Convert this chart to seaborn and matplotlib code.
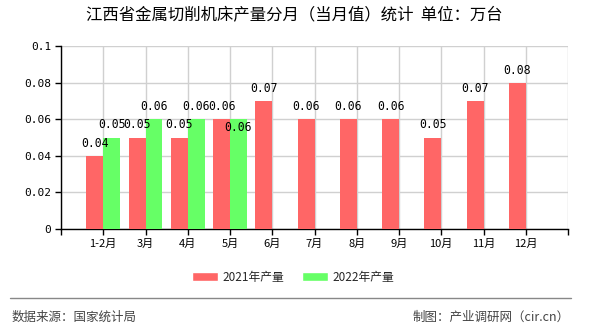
import matplotlib
matplotlib.use("Agg")
import matplotlib.pyplot as plt
import seaborn as sns
import pandas as pd
from matplotlib.patches import Patch

categories = ["1-2月", "3月", "4月", "5月", "6月", "7月", "8月", "9月", "10月", "11月", "12月"]
values_2021 = [0.04, 0.05, 0.05, 0.06, 0.07, 0.06, 0.06, 0.06, 0.05, 0.07, 0.08]
values_2022 = [0.05, 0.06, 0.06, 0.06]
series_names = ["2021年产量", "2022年产量"]
yticks = [0, 0.02, 0.04, 0.06, 0.08, 0.1]
ytick_labels = ["0", "0.02", "0.04", "0.06", "0.08", "0.1"]
title = "江西省金属切削机床产量分月（当月值）统计  单位：万台"
source_left = "数据来源：国家统计局"
source_right = "制图：产业调研网（cir.cn）"

rows = [(c, v, series_names[0]) for c, v in zip(categories, values_2021)]
rows += [(c, v, series_names[1]) for c, v in zip(categories, values_2022)]
df = pd.DataFrame(rows, columns=["月份", "产量", "系列"])

sns.set_theme(style="white")
plt.rcParams["font.family"] = ["Noto Sans CJK SC", "DejaVu Sans"]

colors = ["#FF6666", "#66FF66"]
fig = plt.figure(figsize=(5.9, 3.3), dpi=100)
ax = fig.add_axes([61 / 590, 1 - 229 / 330, (568 - 61) / 590, (229 - 46) / 330])

sns.barplot(data=df, x="月份", y="产量", hue="系列", order=categories,
            hue_order=series_names, palette=colors, width=0.8,
            saturation=1, legend=False, ax=ax, zorder=3, linewidth=0, edgecolor="none")

ax.set_xlim(-1, len(categories))
ax.set_ylim(0, 0.1)
ax.set_xticks(range(-1, len(categories) + 1))
ax.set_xticklabels([""] + categories + [""], fontsize=8)
ax.set_yticks(yticks)
ax.set_yticklabels(ytick_labels, fontsize=8, family="DejaVu Sans Mono")
ax.set_xlabel("")
ax.set_ylabel("")
ax.grid(True, color="#d0d0d0", linewidth=1, zorder=0)
ax.set_axisbelow(True)
for s in ["top", "right"]:
    ax.spines[s].set_visible(False)
for s in ["left", "bottom"]:
    ax.spines[s].set_color("black")
    ax.spines[s].set_linewidth(1)
ax.tick_params(axis="both", direction="out", length=4, width=1, color="black",
               bottom=True, left=True, pad=3, labelcolor="black")

lab_font = dict(fontsize=8.3, family="DejaVu Sans Mono", color="black")
red_c, green_c = ax.containers[0], ax.containers[1]
for bar in red_c:
    h = bar.get_height()
    ax.annotate(f"{h:.2f}", (bar.get_x() + bar.get_width() / 2, h),
                xytext=(0, 9), textcoords="offset points", ha="center", va="center", **lab_font)
for i, bar in enumerate(green_c):
    h = bar.get_height()
    off = -6 if i == 3 else 9
    ax.annotate(f"{h:.2f}", (bar.get_x() + bar.get_width() / 2, h),
                xytext=(0, off), textcoords="offset points", ha="center", va="center", **lab_font)

fig.text(294.5 / 590, 1 - 16 / 330, title, ha="center", va="center", fontsize=11.8, color="black")

handles = [Patch(facecolor=colors[0]), Patch(facecolor=colors[1])]
fig.legend(handles, series_names, loc="center", bbox_to_anchor=(293 / 590, 1 - 277 / 330),
           ncol=2, frameon=False, fontsize=8.5, handlelength=2.2, handleheight=0.9,
           columnspacing=1.5, handletextpad=0.4)

fig.add_artist(plt.Line2D([10 / 590, 571 / 590], [1 - 298 / 330, 1 - 298 / 330],
                          color="#888888", linewidth=1))
fig.text(12 / 590, 1 - 317 / 330, source_left, ha="left", va="center", fontsize=9, color="#444444")
fig.text(570 / 590, 1 - 317 / 330, source_right, ha="right", va="center", fontsize=9, color="#444444")

fig.savefig("out.png", dpi=100)
